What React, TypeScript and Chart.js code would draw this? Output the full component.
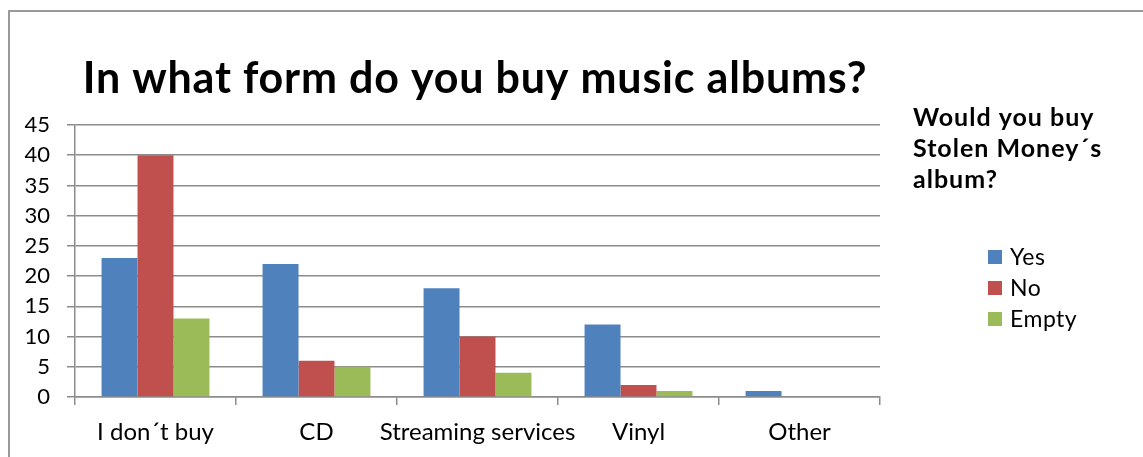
import React, { useEffect, useRef } from "react";
import { Chart, registerables } from "chart.js";

Chart.register(...registerables);

const categories = ["I don´t buy", "CD", "Streaming services", "Vinyl", "Other"];
const seriesNames = ["Yes", "No", "Empty"];
const yesValues = [23, 22, 18, 12, 1];
const noValues = [40, 6, 10, 2, 0];
const emptyValues = [13, 5, 4, 1, 0];
const seriesColors = ["#4F81BD", "#C0504D", "#9BBB59"];
const chartTitle = "In what form do you buy music albums?";
const legendTitle = ["Would you buy", "Stolen Money´s", "album?"];
const yMin = 0;
const yMax = 45;
const yStep = 5;

const FONT = "Lato, Carlito, Calibri, 'Open Sans', sans-serif";
const GRID = "#8c8c8c";

const overlayPlugin = {
  id: "overlay",
  afterDraw(chart: any) {
    const ctx = chart.ctx as any;
    ctx.save();
    ctx.fillStyle = "#000";
    ctx.font = `bold 43px ${FONT}`;
    ctx.letterSpacing = "0.8px";
    ctx.textAlign = "center";
    ctx.textBaseline = "middle";
    ctx.fillText(chartTitle, 465, 67);

    ctx.font = `bold 25px ${FONT}`;
    ctx.letterSpacing = "1px";
    ctx.textAlign = "left";
    legendTitle.forEach((line: string, i: number) => ctx.fillText(line, 903, 106 + i * 31));

    ctx.letterSpacing = "0.5px";
    chart.data.datasets.forEach((ds: any, i: number) => {
      const y = 245 + i * 31;
      ctx.fillStyle = ds.backgroundColor;
      ctx.fillRect(978, y - 7, 14, 14);
      ctx.fillStyle = "#000";
      ctx.font = `23px ${FONT}`;
      ctx.fillText(ds.label, 1000, y + 1);
    });
    ctx.restore();
  },
};

export default function App() {
  const ref = useRef<HTMLCanvasElement | null>(null);

  useEffect(() => {
    if (!ref.current) return;
    const values = [yesValues, noValues, emptyValues];
    const chart = new Chart(ref.current, {
      type: "bar",
      data: {
        labels: categories,
        datasets: seriesNames.map((name, i) => ({
          label: name,
          data: values[i],
          backgroundColor: seriesColors[i],
          borderWidth: 0,
          categoryPercentage: 0.67,
          barPercentage: 1,
        })),
      },
      options: {
        animation: false,
        responsive: false,
        devicePixelRatio: 1,
        layout: { padding: { left: 0, right: 263, top: 113, bottom: 0 } },
        plugins: {
          legend: { display: false },
          title: { display: false },
          tooltip: { enabled: false },
        },
        scales: {
          x: {
            offset: true,
            grid: {
              display: true,
              drawOnChartArea: false,
              drawTicks: true,
              tickLength: 8,
              color: GRID,
              lineWidth: 1.5,
            },
            border: { display: true, color: GRID, width: 1.5 },
            ticks: {
              color: "#000",
              font: { family: FONT, size: 24 },
              padding: 13,
              maxRotation: 0,
              autoSkip: false,
            },
            afterFit: (scale: any) => {
              scale.height = 60;
            },
          },
          y: {
            min: yMin,
            max: yMax,
            grid: {
              color: GRID,
              lineWidth: 1.5,
              drawTicks: true,
              tickLength: 8,
            },
            border: { display: true, color: GRID, width: 1.5 },
            ticks: {
              stepSize: yStep,
              color: "#000",
              font: { family: FONT, size: 22 },
              padding: 17,
            },
            afterFit: (scale: any) => {
              scale.width = 65;
            },
          },
        },
      },
      plugins: [overlayPlugin],
    });
    return () => chart.destroy();
  }, []);

  return (
    <div
      style={{
        position: "absolute",
        left: 8,
        top: 10,
        width: 1135,
        height: 447,
        borderTop: "2px solid #999",
        borderLeft: "2px solid #999",
        boxSizing: "border-box",
        background: "#fff",
        overflow: "hidden",
      }}
    >
      <canvas ref={ref} width={1133} height={445} style={{ display: "block" }} />
    </div>
  );
}
